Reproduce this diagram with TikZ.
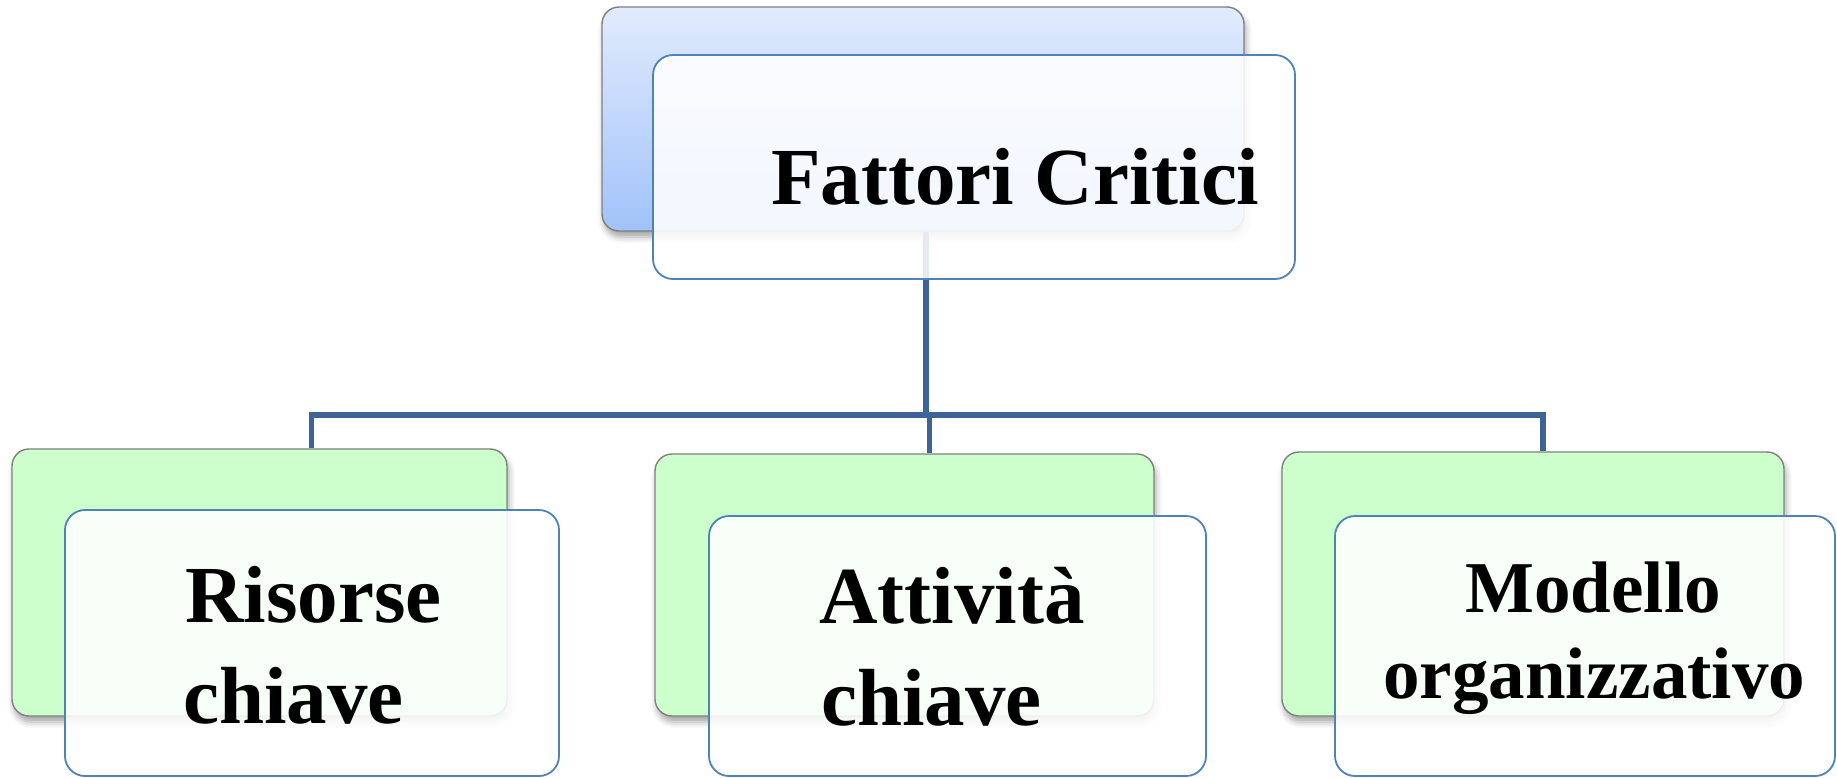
\documentclass[tikz,border=0pt]{standalone}
\usepackage{fontspec}
\setmainfont{Liberation Serif}
\usetikzlibrary{calc,shadows.blur}
\definecolor{conncol}{HTML}{3E6497}
\definecolor{frontedge}{HTML}{4F81BD}
\definecolor{greenfill}{HTML}{CCFFCC}
\definecolor{bluetop}{HTML}{E1EBFC}
\definecolor{bluebot}{HTML}{A1C2FA}
\definecolor{backedge}{HTML}{7F7F7F}
\tikzset{
  backbox/.style={draw=backedge, line width=0.7pt, rounded corners=8.5pt, inner sep=0pt,
    blur shadow={shadow xshift=1pt, shadow yshift=-3pt, shadow blur radius=3pt, shadow opacity=35}},
  greenbox/.style={backbox, fill=greenfill},
  bluebox/.style={backbox, top color=bluetop, bottom color=bluebot},
  frontbox/.style={draw=frontedge, line width=0.9pt, fill=white, fill opacity=0.87, rounded corners=10pt, inner sep=0pt},
  conn/.style={draw=conncol, line width=2.6pt},
  lbl/.style={anchor=base west, inner sep=0pt, font=\bfseries\fontsize{40.5}{48}\selectfont},
  lblsmall/.style={anchor=base west, inner sep=0pt, font=\bfseries\fontsize{36.5}{44}\selectfont},
}
\begin{document}
\begin{tikzpicture}[x=0.5pt, y=-0.5pt]
\useasboundingbox (0,0) rectangle (1837,777);
% back boxes
\node[bluebox, minimum width=321pt, minimum height=112pt] (tb) at (923,119) {};
\node[greenbox, minimum width=247.5pt, minimum height=133.5pt] (lb) at (259.5,582.5) {};
\node[greenbox, minimum width=249.5pt, minimum height=131pt] (mb) at (904.5,585) {};
\node[greenbox, minimum width=251pt, minimum height=132pt] (rb) at (1533,584) {};
% connectors
\coordinate (bus) at (926,415);
\coordinate (d1) at ($(lb.north)+(52,0)$);
\coordinate (d2) at ($(mb.north)+(25,0)$);
\coordinate (d3) at ($(rb.north)+(10,0)$);
\draw[conn] ($(tb.south)+(3,0)$) -- ($(tb.south |- bus)+(3,0)$);
\draw[conn] (d1) -- (d1 |- bus) -- (d3 |- bus) -- (d3);
\draw[conn] (d2 |- bus) -- (d2);
% front boxes
\node[frontbox, minimum width=321pt, minimum height=112pt] (tf) at (974,167) {};
\node[frontbox, minimum width=247pt, minimum height=133pt] (lf) at (312,643) {};
\node[frontbox, minimum width=248.5pt, minimum height=130pt] (mf) at (957.5,646) {};
\node[frontbox, minimum width=250pt, minimum height=130pt] (rf) at (1585,646) {};
% labels
\node[lbl] (t0) at (771,204) {Fattori Critici};
\node[lbl] (l1) at (185,622) {Risorse};
\node[lbl] (l2) at (183,723) {chiave};
\node[lbl] (m1) at (819,623) {Attività};
\node[lbl] (m2) at (821,725) {chiave};
\node[lblsmall] (r1) at (1465,612) {Modello};
\node[lblsmall] (r2) at (1383,698) {organizzativo};
\end{tikzpicture}
\end{document}
